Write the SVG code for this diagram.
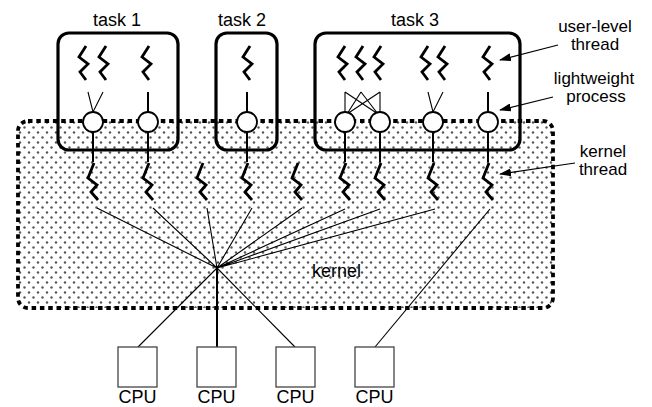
<svg xmlns="http://www.w3.org/2000/svg" width="652" height="407" viewBox="0 0 652 407">
<defs>
<style>
text{font-family:"Liberation Sans",Arial,Helvetica,sans-serif;font-size:18px;fill:#000}
.lg{font-size:17px}
.thr{fill:none;stroke:#000;stroke-width:2.8;stroke-linejoin:miter;stroke-linecap:butt}
.box{fill:none;stroke:#000;stroke-width:3.2}
.lwp{fill:#fff;stroke:#000;stroke-width:1.8}
.thin{stroke:#000;stroke-width:1.1;fill:none}
.med{stroke:#000;stroke-width:2;fill:none}
.cpu{fill:#fff;stroke:#444;stroke-width:1.3}
.arr{stroke:#000;stroke-width:1.2;fill:none;marker-end:url(#ah)}
</style>
<pattern id="dots" patternUnits="userSpaceOnUse" width="9" height="10" x="0" y="0">
<circle cx="2" cy="2.5" r="1.2" fill="#555"/>
<circle cx="6.5" cy="7.5" r="1.2" fill="#555"/>
</pattern>
<marker id="ah" markerWidth="12" markerHeight="8" refX="11" refY="4" orient="auto" markerUnits="userSpaceOnUse">
<path d="M0,0 L12,4 L0,8 Z" fill="#000"/>
</marker>
<path id="ut" d="M2,0 L-5,11 L4,18 L-4,26 L2,34"/>
<path id="kt" d="M1,0 L-5,15 L4,22 L-2,29 L5,37"/>
</defs>

<g id="kernel">
<rect x="18" y="121" width="535" height="187" rx="10" fill="url(#dots)" stroke="#000" stroke-width="3.8" stroke-dasharray="4.5 3.8"/>
<text x="312" y="277">kernel</text>
</g>

<g id="task1">
<rect class="box" x="58" y="33" width="120" height="117" rx="11"/>
<text x="117" y="26" text-anchor="middle">task 1</text>
</g>
<g id="task2">
<rect class="box" x="216" y="33" width="61" height="117" rx="11"/>
<text x="242" y="26" text-anchor="middle">task 2</text>
</g>
<g id="task3">
<rect class="box" x="315" y="33" width="205" height="117" rx="11"/>
<text x="415" y="26" text-anchor="middle">task 3</text>
</g>

<g id="connectors">
<path class="thin" d="M88,92 L93,112 L103,92"/>
<path class="med" d="M148,92 V112"/>
<path class="med" d="M247,92 V112"/>
<path class="thin" d="M345,92 V113 M380,92 V113 M345,92 L378,114 M380,92 L347,114 M361,92 L347,114 M361,92 L378,114"/>
<path class="thin" d="M428,92 L433,112 L443,92"/>
<path class="med" d="M488,92 V112"/>
<path class="med" d="M93,132 V162 M148,132 V162 M247,132 V162 M345,132 V162 M380,132 V162 M433,132 V162 M488,132 V162"/>
<path class="thin" d="M97,208 L217,268 M153,208 L217,268 M207,208 L217,268 M252,208 L217,268 M302,208 L217,268 M345,209 L217,268 M380,209 L217,268 M435,209 L217,268"/>
<path class="thin" d="M490,209 L375,347"/>
<path class="thin" d="M217,268 L138,347 M217,268 L295,347"/>
<path class="med" d="M217,268 V347"/>
</g>

<g id="user-threads">
<use href="#ut" class="thr" x="84" y="46"/>
<use href="#ut" class="thr" x="104" y="46"/>
<use href="#ut" class="thr" x="147" y="46"/>
<use href="#ut" class="thr" x="248" y="46"/>
<use href="#ut" class="thr" x="343" y="46"/>
<use href="#ut" class="thr" x="361" y="46"/>
<use href="#ut" class="thr" x="379" y="46"/>
<use href="#ut" class="thr" x="426" y="46"/>
<use href="#ut" class="thr" x="443" y="46"/>
<use href="#ut" class="thr" x="488" y="46"/>
</g>

<g id="lwps">
<circle class="lwp" cx="93" cy="122" r="10"/>
<circle class="lwp" cx="148" cy="122" r="10"/>
<circle class="lwp" cx="247" cy="122" r="10"/>
<circle class="lwp" cx="345" cy="122" r="10"/>
<circle class="lwp" cx="380" cy="122" r="10"/>
<circle class="lwp" cx="433" cy="122" r="10"/>
<circle class="lwp" cx="488" cy="122" r="10"/>
</g>

<g id="kernel-threads">
<use href="#kt" class="thr" x="93" y="163"/>
<use href="#kt" class="thr" x="148" y="163"/>
<use href="#kt" class="thr" x="202" y="163"/>
<use href="#kt" class="thr" x="247" y="163"/>
<use href="#kt" class="thr" x="297" y="163"/>
<use href="#kt" class="thr" x="345" y="163"/>
<use href="#kt" class="thr" x="380" y="163"/>
<use href="#kt" class="thr" x="433" y="163"/>
<use href="#kt" class="thr" x="488" y="163"/>
</g>

<g id="cpus">
<g id="cpu1"><rect class="cpu" x="118" y="347" width="39" height="40"/><text x="137.5" y="403" text-anchor="middle">CPU</text></g>
<g id="cpu2"><rect class="cpu" x="197" y="347" width="39" height="40"/><text x="216.5" y="403" text-anchor="middle">CPU</text></g>
<g id="cpu3"><rect class="cpu" x="276" y="347" width="39" height="40"/><text x="295.5" y="403" text-anchor="middle">CPU</text></g>
<g id="cpu4"><rect class="cpu" x="355" y="347" width="39" height="40"/><text x="374.5" y="403" text-anchor="middle">CPU</text></g>
</g>

<g id="legend">
<text class="lg" x="595" y="32" text-anchor="middle">user-level</text>
<text class="lg" x="595" y="50" text-anchor="middle">thread</text>
<text class="lg" x="594" y="84" text-anchor="middle">lightweight</text>
<text class="lg" x="596" y="102" text-anchor="middle">process</text>
<text class="lg" x="603" y="157" text-anchor="middle">kernel</text>
<text class="lg" x="603" y="175" text-anchor="middle">thread</text>
<path class="arr" d="M558,45 L500,60"/>
<path class="arr" d="M553,97 L500,110"/>
<path class="arr" d="M575,163 L500,174"/>
</g>
</svg>
